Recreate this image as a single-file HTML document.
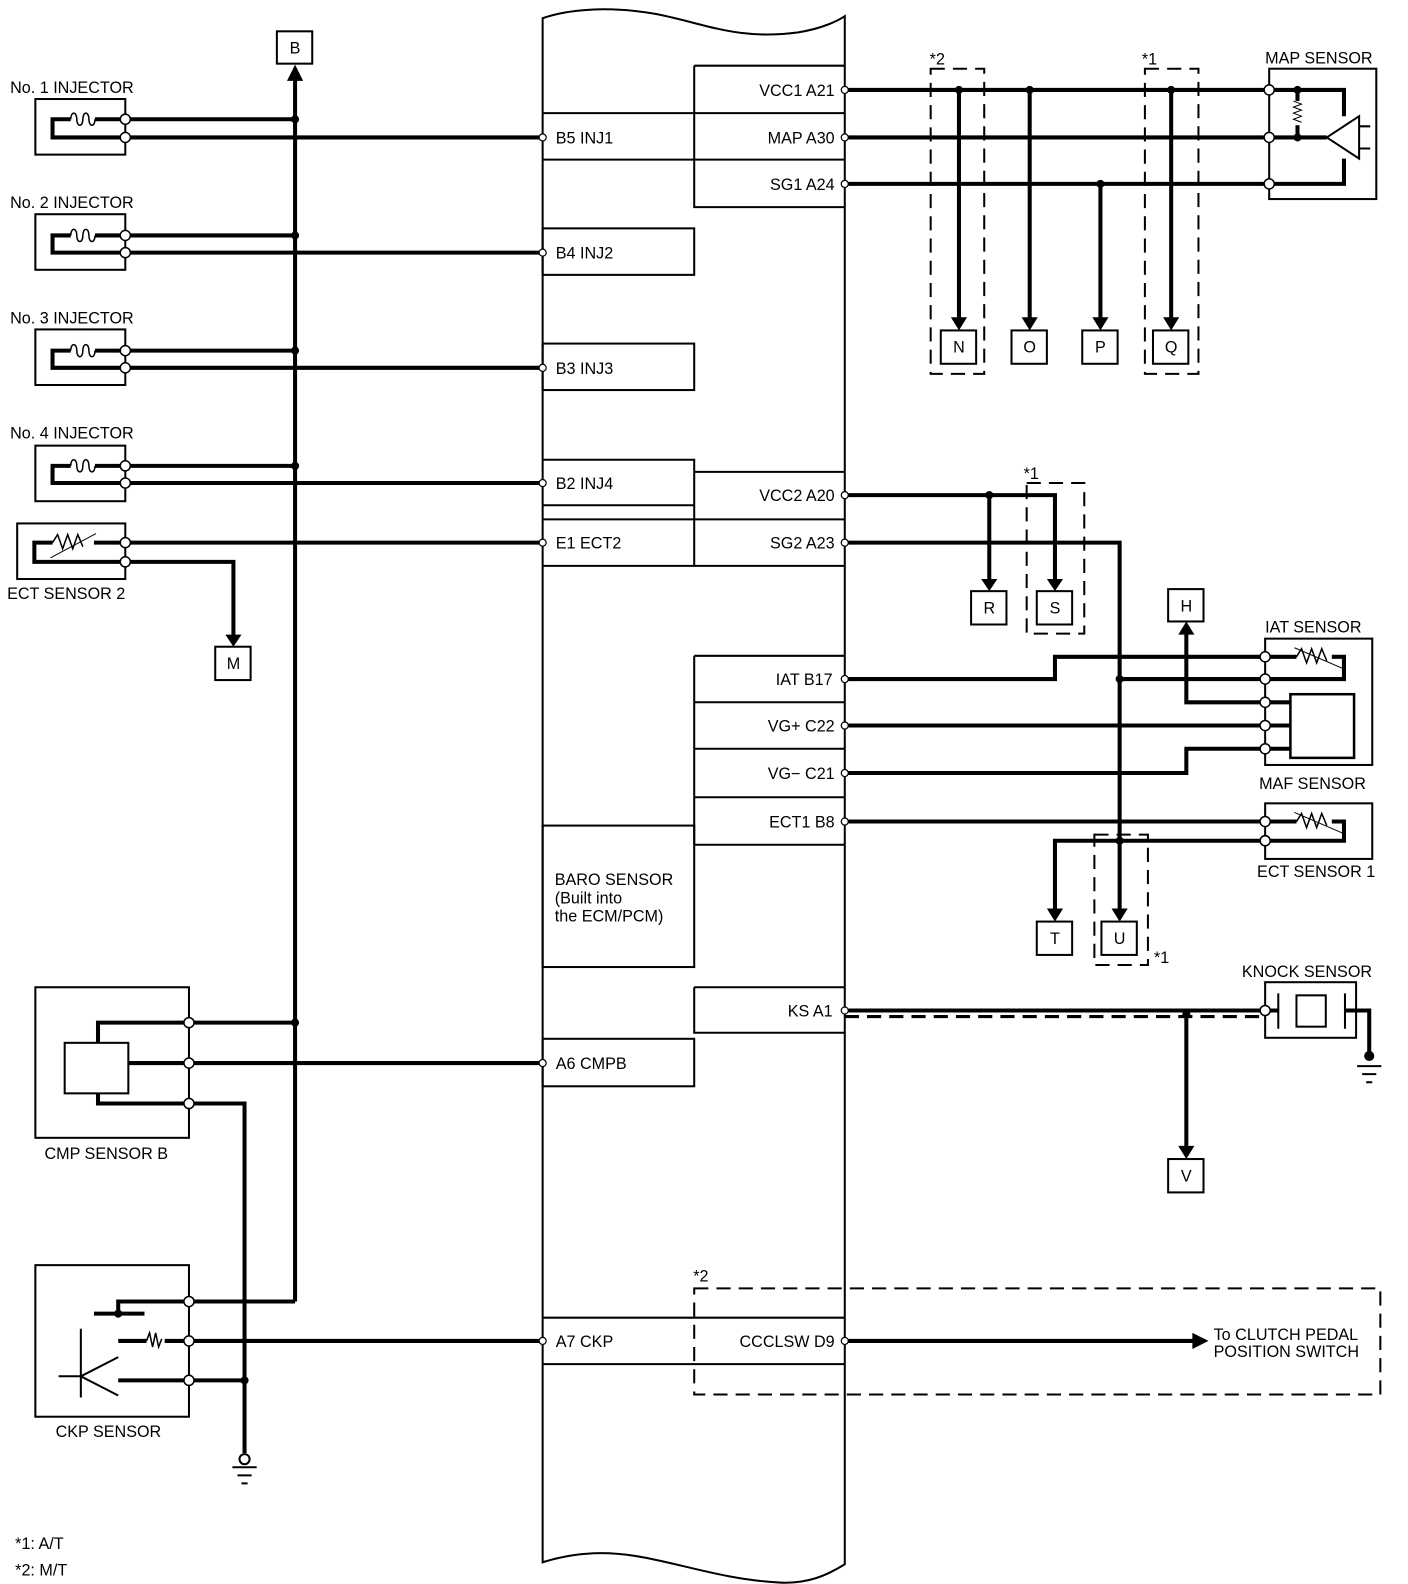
<!DOCTYPE html>
<html><head><meta charset="utf-8"><style>
html,body{margin:0;padding:0;background:#fff;}
svg{display:block;}
text{font-family:"Liberation Sans",Arial,sans-serif;font-size:16px;fill:#000;}
</style></head><body>
<svg width="1408" height="1584" viewBox="0 0 1408 1584" xmlns="http://www.w3.org/2000/svg">
<g transform="scale(1.0105)">
<g fill="none" stroke="#000" stroke-width="2">
<path d="M537,18 C560,10 600,5 650,14 C700,24 730,40 790,32 C815,28 830,20 836,16 L836,1548 C820,1558 800,1568 770,1566 C700,1562 650,1537 595,1537 C570,1537 550,1542 537,1546 Z"/>
<path d="M537,112 H836 M537,158 H836"/>
<rect x="537" y="226" width="150" height="46"/>
<rect x="537" y="340" width="150" height="46"/>
<path d="M537,455 H687 V560 M537,500 H687 M537,514 H836 M537,560 H836 M687,467 H836"/>
<rect x="537" y="817" width="150" height="140"/>
<rect x="537" y="1028" width="150" height="47"/>
<path d="M537,1304 H836 M537,1350 H836"/>
<path d="M687,65 H836 M687,65 V205 H836"/>
<path d="M687,649 H836 M687,649 V836 M687,695 H836 M687,741 H836 M687,789 H836 M687,836 H836"/>
<path d="M687,977 H836 M687,977 V1022 H836"/>
</g>
<g fill="none" stroke="#000" stroke-width="2" stroke-dasharray="14,8">
<rect x="921" y="68" width="53" height="302"/>
<rect x="1133" y="68" width="53" height="302"/>
<rect x="1016" y="478" width="57" height="149"/>
<rect x="1083" y="826" width="53" height="129"/>
<rect x="687" y="1275" width="679" height="105"/>
<path d="M836,1006 H1252" stroke-width="3"/>
</g>
<g fill="none" stroke="#000" stroke-width="4">
<path d="M292,1288 V74"/>
<path d="M124,118 H292 M124,136 H537"/>
<path d="M124,233 H292 M124,250 H537"/>
<path d="M124,347 H292 M124,364 H537"/>
<path d="M124,461 H292 M124,478 H537"/>
<path d="M124,537 H537 M124,556 H231 V630"/>
<path d="M187,1012 H292 M187,1052 H537 M187,1092 H242 V1438 M187,1288 H292 M187,1327 H537 M187,1366 H242"/>
<path d="M836,89 H1256 M836,136 H1256 M836,182 H1256"/>
<path d="M949,89 V318 M1019,89 V318 M1089,182 V318 M1159,89 V318"/>
<path d="M836,490 H1044 V577 M979,490 V577"/>
<path d="M836,537 H1108 V902"/>
<path d="M836,672 H1044 V650 H1252 M1108,672 H1252"/>
<path d="M1252,695 H1174 V622"/>
<path d="M836,718 H1252 M836,765 H1174 V741 H1252"/>
<path d="M836,813 H1252 M1252,832 H1044 V902"/>
<path d="M836,1000 H1252 M1174,1004 V1138"/>
<path d="M836,1327 H1185"/>
</g>
<g fill="none" stroke="#000" stroke-width="2">
<rect x="35" y="98" width="89" height="55"/>
<rect x="35" y="212" width="89" height="55"/>
<rect x="35" y="326" width="89" height="55"/>
<rect x="35" y="441" width="89" height="55"/>
<rect x="17" y="518" width="107" height="55"/>
<rect x="35" y="977" width="152" height="149"/>
<rect x="64" y="1032" width="63" height="50"/>
<rect x="35" y="1252" width="152" height="150"/>
<rect x="1256" y="68" width="106" height="129"/>
<rect x="1252" y="632" width="106" height="125"/>
<rect x="1252" y="795" width="106" height="55"/>
<rect x="1252" y="972" width="90" height="55"/>
<rect x="1277" y="687" width="63" height="63" stroke-width="2.5"/>
<rect x="1283" y="985" width="29" height="31"/>
<path d="M1265,983 V1018 M1331,983 V1018"/>
<rect x="274" y="31" width="35" height="32"/>
<rect x="213" y="640" width="35" height="33"/>
<rect x="931" y="327" width="35" height="33"/>
<rect x="1001" y="327" width="35" height="33"/>
<rect x="1071" y="327" width="35" height="33"/>
<rect x="1141" y="327" width="35" height="33"/>
<rect x="961" y="585" width="35" height="33"/>
<rect x="1026" y="585" width="35" height="33"/>
<rect x="1156" y="583" width="35" height="32"/>
<rect x="1026" y="912" width="35" height="33"/>
<rect x="1090" y="912" width="35" height="33"/>
<rect x="1156" y="1147" width="35" height="33"/>
<polygon points="1313,136 1345,115 1345,157"/>
<path d="M1345,125 H1356 M1345,147 H1356"/>
<path d="M1280,100 l8,3 l-8,3 l8,3 l-8,3 l8,3 l-8,3 l8,3" stroke-width="1"/>
<path d="M1283,650 l5,-8 l5,14 l5,-14 l5,14 l5,-14 l5,12" stroke-width="1.5"/>
<path d="M1281,641 L1330,662" stroke-width="1"/>
<path d="M1283,813 l5,-8 l5,14 l5,-14 l5,14 l5,-14 l5,12" stroke-width="1.5"/>
<path d="M1281,804 L1330,825" stroke-width="1"/>
<path d="M52,537 l5,-8 l5,14 l5,-14 l5,14 l5,-14 l5,12" stroke-width="1.5"/>
<path d="M50,552 L95,528" stroke-width="1"/>
<path d="M70,118 c0,-8 6,-8 6,0 c0,8 6,8 6,0 c0,-8 6,-8 6,0 c0,8 6,8 6,0" stroke-width="1.5"/>
<path d="M70,233 c0,-8 6,-8 6,0 c0,8 6,8 6,0 c0,-8 6,-8 6,0 c0,8 6,8 6,0" stroke-width="1.5"/>
<path d="M70,347 c0,-8 6,-8 6,0 c0,8 6,8 6,0 c0,-8 6,-8 6,0 c0,8 6,8 6,0" stroke-width="1.5"/>
<path d="M70,461 c0,-8 6,-8 6,0 c0,8 6,8 6,0 c0,-8 6,-8 6,0 c0,8 6,8 6,0" stroke-width="1.5"/>
<path d="M80,1315 V1383 M80,1362 L117,1343 M80,1362 L117,1381 M58,1362 H80" stroke-width="2"/>
<path d="M145,1327 l3,-8 l3,14 l3,-14 l3,14 l3,-8" stroke-width="1.5"/>
<path d="M230,1452 H254 M235,1460 H249 M239,1468 H245"/>
<path d="M1343,1055 H1367 M1348,1063 H1362 M1352,1071 H1358"/>
<circle cx="242" cy="1444" r="5"/>
</g>
<g fill="none" stroke="#000" stroke-width="4">
<path d="M124,118 H94 M70,118 H52 V136 H124"/>
<path d="M124,233 H94 M70,233 H52 V250 H124"/>
<path d="M124,347 H94 M70,347 H52 V364 H124"/>
<path d="M124,461 H94 M70,461 H52 V478 H124"/>
<path d="M124,537 H93 M52,537 H34 V556 H124"/>
<path d="M187,1012 H97 V1032 M127,1052 H187 M97,1082 V1092 H187"/>
<path d="M187,1288 H117 V1300 M93,1300 H143"/>
<path d="M117,1327 H145 M163,1327 H187 M117,1366 H187"/>
<path d="M1256,89 H1330 V115 M1256,182 H1330 V157 M1256,136 H1313 M1284,89 V100 M1284,124 V136"/>
<path d="M1252,650 H1283 M1318,650 H1330 V672 H1252"/>
<path d="M1252,813 H1283 M1318,813 H1330 V832 H1252"/>
<path d="M1252,695 H1277 M1252,718 H1277 M1252,741 H1277"/>
<path d="M1252,1000 H1265 M1331,1000 H1355 V1045"/>
</g>
<g fill="#000" stroke="none">
<polygon points="284,80 300,80 292,64"/>
<polygon points="223,628 239,628 231,640"/>
<polygon points="941,314 957,314 949,327"/>
<polygon points="1011,314 1027,314 1019,327"/>
<polygon points="1081,314 1097,314 1089,327"/>
<polygon points="1151,314 1167,314 1159,327"/>
<polygon points="971,573 987,573 979,585"/>
<polygon points="1036,573 1052,573 1044,585"/>
<polygon points="1166,628 1182,628 1174,615"/>
<polygon points="1036,899 1052,899 1044,912"/>
<polygon points="1100,899 1116,899 1108,912"/>
<polygon points="1166,1134 1182,1134 1174,1147"/>
<polygon points="1180,1319 1180,1335 1196,1327"/>
<circle cx="292" cy="118" r="4"/><circle cx="292" cy="233" r="4"/>
<circle cx="292" cy="347" r="4"/><circle cx="292" cy="461" r="4"/>
<circle cx="292" cy="1012" r="4"/><circle cx="242" cy="1366" r="4"/>
<circle cx="949" cy="89" r="4"/><circle cx="1019" cy="89" r="4"/>
<circle cx="1159" cy="89" r="4"/><circle cx="1089" cy="182" r="4"/>
<circle cx="979" cy="490" r="4"/><circle cx="1108" cy="672" r="4"/>
<circle cx="1108" cy="832" r="4"/><circle cx="1174" cy="1004" r="4"/>
<circle cx="1284" cy="89" r="4"/><circle cx="1284" cy="136" r="4"/>
<circle cx="117" cy="1300" r="4"/><circle cx="1355" cy="1045" r="5"/>
</g>
<g fill="#fff" stroke="#000" stroke-width="1.5">
<circle cx="124" cy="118" r="5"/><circle cx="124" cy="136" r="5"/>
<circle cx="124" cy="233" r="5"/><circle cx="124" cy="250" r="5"/>
<circle cx="124" cy="347" r="5"/><circle cx="124" cy="364" r="5"/>
<circle cx="124" cy="461" r="5"/><circle cx="124" cy="478" r="5"/>
<circle cx="124" cy="537" r="5"/><circle cx="124" cy="556" r="5"/>
<circle cx="187" cy="1012" r="5"/><circle cx="187" cy="1052" r="5"/><circle cx="187" cy="1092" r="5"/>
<circle cx="187" cy="1288" r="5"/><circle cx="187" cy="1327" r="5"/><circle cx="187" cy="1366" r="5"/>
<circle cx="1256" cy="89" r="5"/><circle cx="1256" cy="136" r="5"/><circle cx="1256" cy="182" r="5"/>
<circle cx="1252" cy="650" r="5"/><circle cx="1252" cy="672" r="5"/><circle cx="1252" cy="695" r="5"/>
<circle cx="1252" cy="718" r="5"/><circle cx="1252" cy="741" r="5"/>
<circle cx="1252" cy="813" r="5"/><circle cx="1252" cy="832" r="5"/>
<circle cx="1252" cy="1000" r="5"/>
</g>
<g fill="#fff" stroke="#000" stroke-width="1.2">
<circle cx="537" cy="136" r="3.5"/><circle cx="537" cy="250" r="3.5"/><circle cx="537" cy="364" r="3.5"/>
<circle cx="537" cy="478" r="3.5"/><circle cx="537" cy="537" r="3.5"/><circle cx="537" cy="1052" r="3.5"/>
<circle cx="537" cy="1327" r="3.5"/>
<circle cx="836" cy="89" r="3.5"/><circle cx="836" cy="136" r="3.5"/><circle cx="836" cy="182" r="3.5"/>
<circle cx="836" cy="490" r="3.5"/><circle cx="836" cy="537" r="3.5"/>
<circle cx="836" cy="672" r="3.5"/><circle cx="836" cy="718" r="3.5"/><circle cx="836" cy="765" r="3.5"/>
<circle cx="836" cy="813" r="3.5"/><circle cx="836" cy="1000" r="3.5"/><circle cx="836" cy="1327" r="3.5"/>
</g>
<g>
<text x="10" y="92">No. 1 INJECTOR</text>
<text x="10" y="206">No. 2 INJECTOR</text>
<text x="10" y="320">No. 3 INJECTOR</text>
<text x="10" y="434">No. 4 INJECTOR</text>
<text x="7" y="593">ECT SENSOR 2</text>
<text x="44" y="1147">CMP SENSOR B</text>
<text x="55" y="1422">CKP SENSOR</text>
<text x="15" y="1533">*1: A/T</text>
<text x="15" y="1559">*2: M/T</text>
<text x="550" y="142">B5 INJ1</text>
<text x="550" y="256">B4 INJ2</text>
<text x="550" y="370">B3 INJ3</text>
<text x="550" y="484">B2 INJ4</text>
<text x="550" y="543">E1 ECT2</text>
<text x="549" y="876">BARO SENSOR</text>
<text x="549" y="894">(Built into</text>
<text x="549" y="912">the ECM/PCM)</text>
<text x="550" y="1058">A6 CMPB</text>
<text x="550" y="1333">A7 CKP</text>
<g text-anchor="end">
<text x="826" y="95">VCC1 A21</text>
<text x="826" y="142">MAP A30</text>
<text x="826" y="188">SG1 A24</text>
<text x="826" y="496">VCC2 A20</text>
<text x="826" y="543">SG2 A23</text>
<text x="824" y="678">IAT B17</text>
<text x="826" y="724">VG+ C22</text>
<text x="826" y="771">VG− C21</text>
<text x="826" y="819">ECT1 B8</text>
<text x="824" y="1006">KS A1</text>
<text x="826" y="1333">CCCLSW D9</text>
</g>
<text x="1252" y="63">MAP SENSOR</text>
<text x="1252" y="626">IAT SENSOR</text>
<text x="1246" y="781">MAF SENSOR</text>
<text x="1244" y="868">ECT SENSOR 1</text>
<text x="1229" y="967">KNOCK SENSOR</text>
<text x="1201" y="1326">To CLUTCH PEDAL</text>
<text x="1201" y="1343">POSITION SWITCH</text>
<text x="920" y="64">*2</text>
<text x="1130" y="64">*1</text>
<text x="1013" y="474">*1</text>
<text x="1142" y="953">*1</text>
<text x="686" y="1268">*2</text>
<g text-anchor="middle">
<text x="292" y="53">B</text>
<text x="231" y="662">M</text>
<text x="949" y="349">N</text>
<text x="1019" y="349">O</text>
<text x="1089" y="349">P</text>
<text x="1159" y="349">Q</text>
<text x="979" y="607">R</text>
<text x="1044" y="607">S</text>
<text x="1174" y="605">H</text>
<text x="1044" y="934">T</text>
<text x="1108" y="934">U</text>
<text x="1174" y="1169">V</text>
</g>
</g>
</g>
</svg>
</body></html>
